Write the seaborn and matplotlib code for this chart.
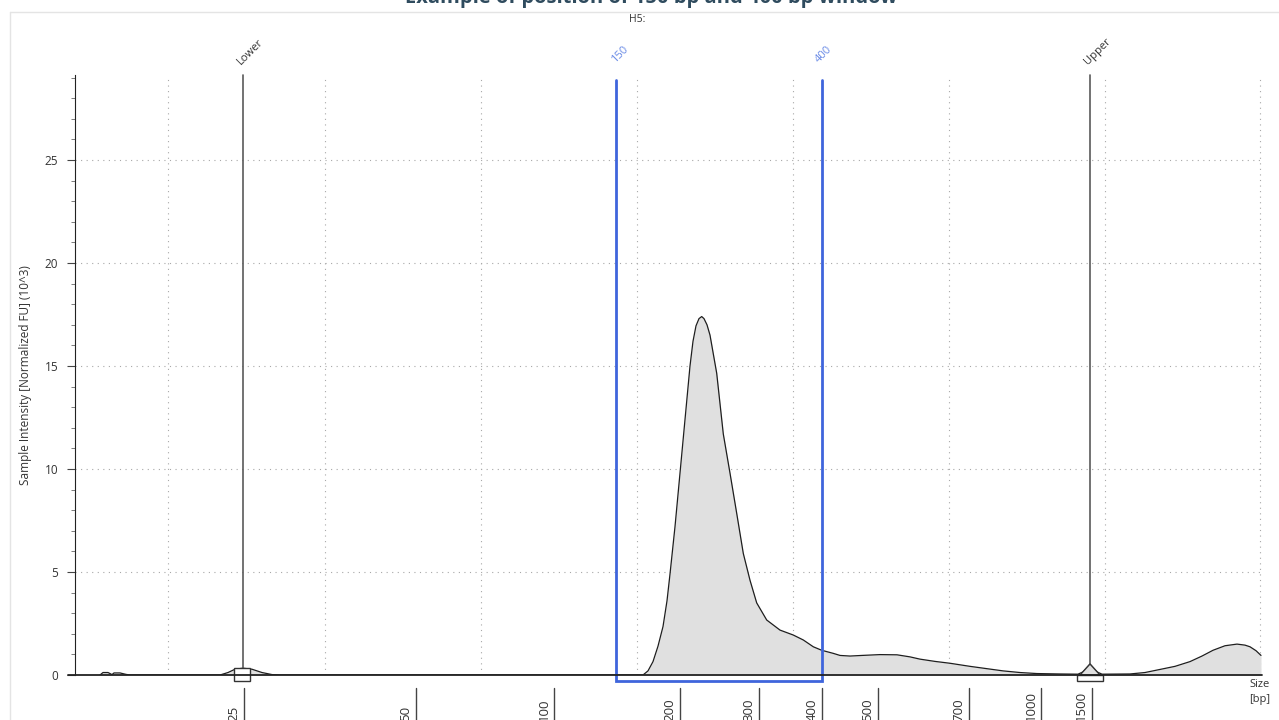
import matplotlib
matplotlib.use("Agg")
import matplotlib.pyplot as plt
import seaborn as sns
import numpy as np
import pandas as pd
from matplotlib.patches import Rectangle, Polygon

# ---------------- data ----------------
migration = [100, 103, 108, 112, 114, 120, 126, 130, 220, 228, 235, 243, 252, 262, 272, 280,
             640, 643, 648, 653, 658, 663, 667, 670, 675, 680, 685, 690, 693, 696, 699, 701.7, 704,
             707, 710, 716.7, 723.3, 730, 736.7, 743.3, 750, 756.7, 766.7, 780, 793.3, 803.3, 813.3,
             821.7, 833.3, 840, 850, 862, 880, 897, 910, 920, 935, 950, 970, 985, 1003, 1020,
             1037, 1060, 1078, 1083, 1090, 1097, 1102, 1130, 1145, 1157, 1175, 1190, 1202, 1213,
             1225, 1237, 1245, 1250, 1256, 1261]
intensity = [0.0, 0.12, 0.12, 0.02, 0.1, 0.1, 0.03, 0.0, 0.0, 0.12, 0.28, 0.33, 0.28, 0.12, 0.02, 0.0,
             0.0, 0.0, 0.2, 0.65, 1.4, 2.35, 3.6, 4.9, 7.2, 9.8, 12.4, 15.0, 16.2, 16.95, 17.3, 17.4, 17.3,
             17.0, 16.5, 14.65, 11.7, 9.8, 7.85, 5.9, 4.6, 3.5, 2.67, 2.18, 1.94, 1.7, 1.37,
             1.2, 1.05, 0.95, 0.92, 0.95, 0.99, 0.98, 0.88, 0.77, 0.66, 0.57, 0.42, 0.32, 0.2, 0.12,
             0.07, 0.05, 0.04, 0.15, 0.53, 0.15, 0.04, 0.05, 0.12, 0.24, 0.42, 0.65, 0.92, 1.2,
             1.42, 1.5, 1.45, 1.37, 1.18, 0.95]

size_labels = ["25", "50", "100", "200", "300", "400", "500", "700", "1000", "1500"]
size_positions = [244, 416, 554, 679.5, 759, 822, 877.5, 969, 1041, 1091.5]

y_ticks = [0, 5, 10, 15, 20, 25]
grid_x = [168, 325, 481, 637, 793, 949, 1105, 1260]

lower_pos, upper_pos = 243, 1090
window_start, window_end = 616, 822
window_labels = ["150", "400"]

title = "Example of position of 150 bp and 400 bp window"
sample = "H5:"
ylabel = "Sample Intensity [Normalized FU] (10^3)"

# ---------------- figure ----------------
sns.set_style("white")
plt.rcParams['font.family'] = ['Open Sans', 'DejaVu Sans']

W, H = 1279, 720
fig = plt.figure(figsize=(W / 100, H / 100), dpi=100)
fig.patch.set_facecolor("white")

ax_left, ax_right, ax_bottom_px, ax_top_px = 75, 1262, 675, 75
ax = fig.add_axes([ax_left / W, (H - ax_bottom_px) / H,
                   (ax_right - ax_left) / W, (ax_bottom_px - ax_top_px) / H])
px_per_unit = 20.6
ytop = (ax_bottom_px - ax_top_px) / px_per_unit
ax.set_xlim(ax_left, ax_right)
ax.set_ylim(0, ytop)


def yval(py):
    return (ax_bottom_px - py) / px_per_unit


def fx(px):
    return px / W


def fy(py):
    return 1 - py / H


# grid
for gx in grid_x:
    ax.plot([gx, gx], [0, ytop], color="#a8a8a8", lw=0.8, ls=(0, (1, 4)), zorder=1)
for yt in y_ticks[1:]:
    ax.plot([ax_left, ax_right], [yt, yt], color="#a8a8a8", lw=0.8, ls=(0, (1, 4)), zorder=1)

# curve
df = pd.DataFrame({"migration": migration, "intensity": intensity})
ax.fill_between(df["migration"], 0, df["intensity"], color="#e0e0e0", zorder=2, lw=0)
sns.lineplot(data=df, x="migration", y="intensity", ax=ax, color="#1e1e1e", lw=0.9,
             zorder=3, sort=False, estimator=None)

# ladder markers
for pos, lab, ytopline in [(lower_pos, "Lower", yval(668)), (upper_pos, "Upper", yval(664))]:
    ax.plot([pos, pos], [ytopline, ytop], color="#5a5a5a", lw=1.2, zorder=4, clip_on=False)
    fig.text(fx(pos - 8), fy(67), lab, rotation=45, ha="left", va="bottom",
             fontsize=8, color="#333333")
ax.add_patch(Rectangle((234, yval(681)), 16, yval(668) - yval(681), facecolor="white",
                       edgecolor="#333333", lw=1, zorder=5, clip_on=False))
ax.add_patch(Polygon([[1080, 0], [upper_pos, yval(664)], [1100, 0]], closed=True,
                     facecolor="#e0e0e0", edgecolor="#333333", lw=1, zorder=5, clip_on=False))
ax.add_patch(Rectangle((1077, yval(681)), 26, yval(675) - yval(681), facecolor="white",
                       edgecolor="#333333", lw=1, zorder=5, clip_on=False))

# window
blue = "#3f65dc"
ax.plot([window_start, window_start, window_end, window_end],
        [yval(80), yval(681), yval(681), yval(80)], color=blue, lw=2, zorder=6,
        clip_on=False, solid_joinstyle="miter")
fig.text(fx(window_start - 7), fy(65), window_labels[0], rotation=45, ha="left", va="bottom",
         fontsize=8, color="#6a8be6")
fig.text(fx(window_end - 9), fy(65), window_labels[1], rotation=45, ha="left", va="bottom",
         fontsize=8, color="#6a8be6")

# axes styling
for s in ["top", "right"]:
    ax.spines[s].set_visible(False)
ax.spines["left"].set_color("#222222")
ax.spines["bottom"].set_visible(False)
ax.plot([68, ax_right], [0, 0], color="#222222", lw=1.3, zorder=7, clip_on=False)
ax.set_yticks(y_ticks)
ax.set_yticks(np.arange(0, 30, 1), minor=True)
ax.tick_params(axis="y", which="major", length=6, width=0.8, color="#444444",
               labelsize=8.5, labelcolor="#333333", pad=6, left=True)
ax.tick_params(axis="y", which="minor", length=3, width=0.6, color="#666666", left=True)
ax.set_xticks([])
ax.set_xlabel("")
ax.set_ylabel(ylabel, fontsize=8.5, color="#333333", labelpad=9)

# size ticks below axis
for pos, lab in zip(size_positions, size_labels):
    ax.plot([pos, pos], [yval(688), yval(722)], color="#444444", lw=1, clip_on=False, zorder=7)
    fig.text(fx(pos - 10), fy(721), lab, rotation=90, ha="center", va="bottom",
             fontsize=9.5, color="#333333")

fig.text(fx(1270), fy(679), "Size", ha="right", va="top", fontsize=8, color="#333333")
fig.text(fx(1270), fy(694), "[bp]", ha="right", va="top", fontsize=8, color="#333333")

# header texts
fig.text(fx(637), fy(20), sample, ha="center", va="center", fontsize=7.5, color="#333333")
fig.text(fx(651), fy(3), title, ha="center", va="baseline", fontsize=14.5,
         fontweight="bold", color="#2f4b5e")

# light frame
fig.add_artist(plt.Line2D([fx(10), fx(10)], [fy(12), fy(720)], color="#e4e4e4", lw=1))
fig.add_artist(plt.Line2D([fx(10), fx(1279)], [fy(12), fy(12)], color="#e4e4e4", lw=1))

fig.savefig("out.png", dpi=100, facecolor="white")
